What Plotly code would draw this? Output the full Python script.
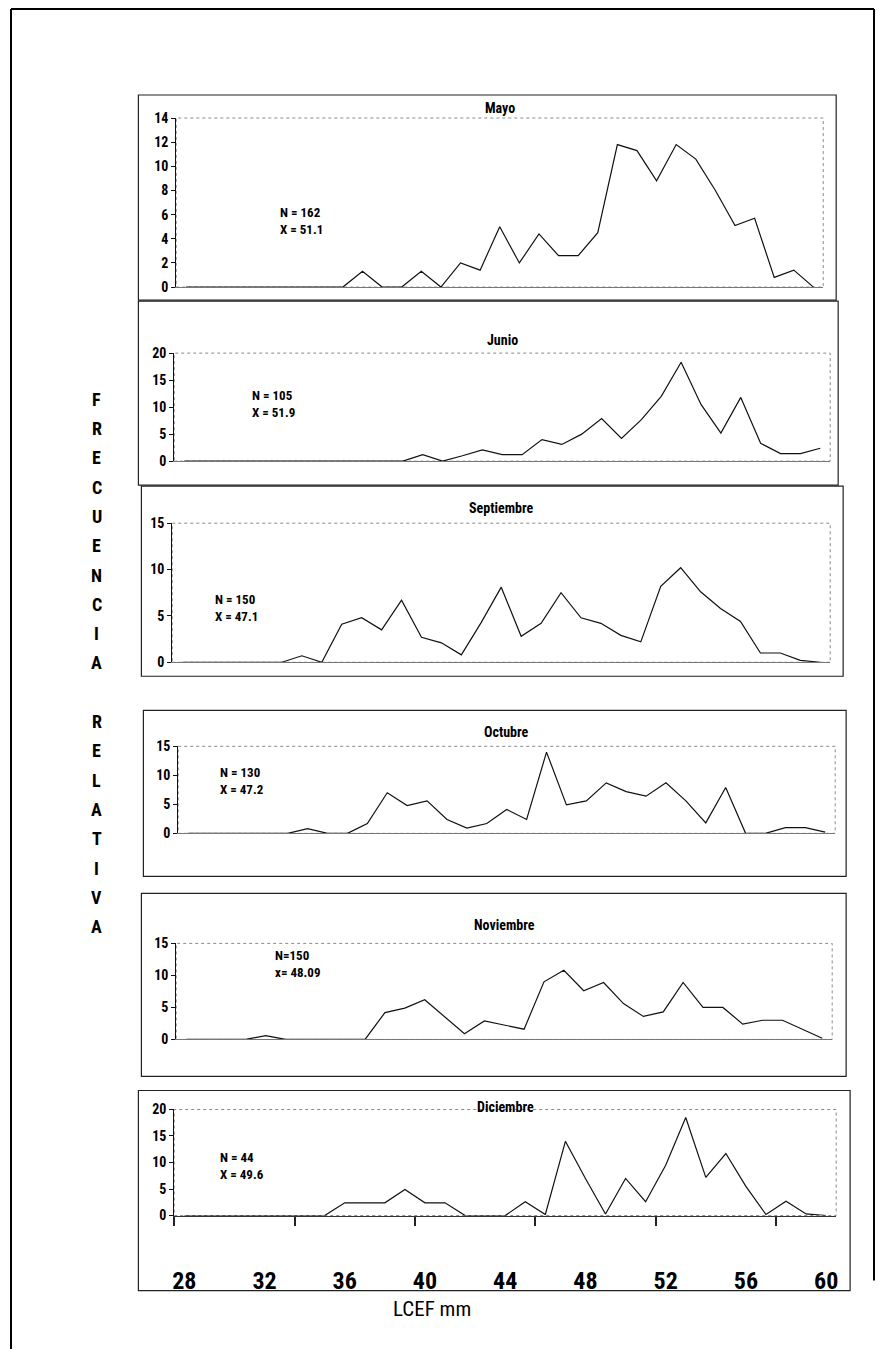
import plotly.graph_objects as go

# ---------------- data ----------------
lengths = list(range(28, 61))
months = ["Mayo", "Junio", "Septiembre", "Octubre", "Noviembre", "Diciembre"]
mayo = [0, 0, 0, 0, 0, 0, 0, 0, 0, 1.3, 0, 0, 1.3, 0, 2, 1.4, 5, 2, 4.4, 2.6, 2.6,
        4.5, 11.8, 11.3, 8.8, 11.8, 10.6, 8.0, 5.1, 5.7, 0.8, 1.4, 0]
junio = [0, 0, 0, 0, 0, 0, 0, 0, 0, 0, 0, 0, 1.2, 0, 1, 2.1, 1.2, 1.2, 4, 3.1, 5,
         7.9, 4.2, 7.7, 12, 18.3, 10.5, 5.2, 11.8, 3.3, 1.4, 1.4, 2.4]
septiembre = [0, 0, 0, 0, 0, 0, 0.7, 0, 4.1, 4.8, 3.5, 6.7, 2.7, 2.1, 0.8, 4.3, 8.1,
              2.8, 4.2, 7.5, 4.8, 4.2, 2.9, 2.2, 8.2, 10.2, 7.6, 5.8, 4.4, 1.0, 1.0, 0.2, 0]
octubre = [0, 0, 0, 0, 0, 0, 0.8, 0, 0, 1.7, 7, 4.8, 5.6, 2.4, 0.9, 1.7, 4.1, 2.4,
           14, 4.9, 5.6, 8.7, 7.2, 6.4, 8.7, 5.6, 1.8, 7.9, 0, 0, 1, 1, 0.2]
noviembre = [0, 0, 0, 0, 0.6, 0, 0, 0, 0, 0, 4.2, 4.9, 6.2, 3.5, 0.9, 2.9, 2.2, 1.6,
             9, 10.8, 7.6, 8.9, 5.6, 3.6, 4.3, 8.9, 5, 5, 2.4, 3, 3, 1.6, 0.2]
diciembre = [0, 0, 0, 0, 0, 0, 0, 0, 2.4, 2.4, 2.4, 4.9, 2.4, 2.4, 0, 0, 0, 2.6, 0.2,
             14, 7, 0.3, 7, 2.6, 9.5, 18.5, 7.2, 11.7, 5.5, 0.2, 2.7, 0.3, 0]
series = [mayo, junio, septiembre, octubre, noviembre, diciembre]
n_labels = ["N = 162", "N = 105", "N = 150", "N = 130", "N=150", "N = 44"]
x_labels = ["X = 51.1", "X = 51.9", "X = 47.1", "X = 47.2", "x= 48.09", "X = 49.6"]
y_max = [14, 20, 15, 15, 15, 20]
y_dtick = [2, 5, 5, 5, 5, 5]
x_ticks = list(range(28, 61, 4))

# ---------------- layout (page pixels; the figure sits inside the 8px body margin) ----------------
OFF = 8
W, H = 885 - 2 * OFF, 1365 - 2 * OFF
plot_px = [  # x0, x1, ytop, ybottom
    (175, 825, 118, 287),
    (173, 832, 353, 461),
    (171, 832, 523, 662),
    (177, 837, 746, 833),
    (175, 834, 943, 1039),
    (173, 838, 1109, 1215),
]
boxes_px = [
    (137, 95, 838, 300),
    (137, 301, 840, 485),
    (140, 486, 845, 676),
    (142, 710, 848, 876),
    (140, 893, 848, 1076),
    (137, 1090, 852, 1290),
]
title_y = [108, 340, 508, 732, 925, 1107]
note_px = [(305, 213), (277, 396), (240, 600), (245, 773), (300, 956), (245, 1157)]

NARROW = "Liberation Sans Narrow, Arial Narrow, Roboto Condensed, sans-serif"


def px(x):
    return (x - OFF) / W


def py(y):
    y = 660 + (y - 660) * 1.0125
    return 1 - (y - OFF) / H


fig = go.Figure()
layout = dict(
    width=W, height=H, margin=dict(l=0, r=0, t=0, b=0),
    paper_bgcolor="white", plot_bgcolor="white", showlegend=False,
    font=dict(family=NARROW, color="black"),
)
shapes = []
annotations = []

for k, (name, vals) in enumerate(zip(months, series)):
    sfx = "" if k == 0 else str(k + 1)
    xa, ya = "x" + sfx, "y" + sfx
    fig.add_trace(go.Scatter(x=lengths, y=vals, mode="lines", xaxis=xa, yaxis=ya,
                             line=dict(color="#111111", width=1.2), hoverinfo="skip"))
    x0, x1, yt, yb = plot_px[k]
    last = k == len(months) - 1
    xaxis = dict(domain=[px(x0), px(x1)], range=[27.5, 60.5], anchor=ya,
                 showgrid=False, zeroline=False, showline=True,
                 linecolor="#777777", linewidth=1, fixedrange=True)
    if last:
        xaxis.update(tickmode="array", tickvals=x_ticks, ticktext=[str(v) for v in x_ticks],
                     ticks="", ticklabelstandoff=44, linecolor="#333333",
                     tickfont=dict(family=NARROW, size=24, color="black", weight="bold"),
                     minor=dict(tickmode="array", tickvals=[27.5, 33.5, 39.5, 45.5, 51.5, 57.5],
                                ticks="outside", ticklen=9, tickcolor="#222222", tickwidth=1.5))
    else:
        xaxis.update(showticklabels=False, ticks="")
    yaxis = dict(domain=[py(yb), py(yt)], range=[0, y_max[k]], dtick=y_dtick[k], anchor=xa,
                 showgrid=False, zeroline=False, showline=True, linecolor="#111111",
                 linewidth=1.2, ticks="outside", ticklen=4, tickcolor="#111111",
                 tickfont=dict(family=NARROW, size=14, color="black", weight="bold"),
                 fixedrange=True)
    layout["xaxis" + sfx] = xaxis
    layout["yaxis" + sfx] = yaxis
    # plot-area border (grey dotted)
    shapes.append(dict(type="rect", xref=xa + " domain", yref=ya + " domain", x0=0, x1=1, y0=0, y1=1,
                       line=dict(color="#8a8a8a", width=1, dash="dot"), layer="below"))
    # chart frame
    bx0, by0, bx1, by1 = boxes_px[k]
    shapes.append(dict(type="rect", xref="paper", yref="paper", x0=px(bx0), x1=px(bx1),
                       y0=py(by1), y1=py(by0), line=dict(color="#222222", width=1.2)))
    annotations.append(dict(text=name, xref="paper", yref="paper", x=px((x0 + x1) / 2),
                            y=py(title_y[k]), showarrow=False, xanchor="center", yanchor="middle",
                            font=dict(family=NARROW, size=14, color="black", weight="bold")))
    nx, ny = note_px[k]
    annotations.append(dict(text=n_labels[k] + "<br>" + x_labels[k], xref="paper", yref="paper",
                            x=px(nx - 28), y=py(ny - 10), showarrow=False, xanchor="left",
                            yanchor="top", align="left",
                            font=dict(family=NARROW, size=13, color="black", weight="bold")))

# outer page frame (left, top, right)
shapes.append(dict(type="line", xref="paper", yref="paper", x0=px(9), x1=px(9), y0=0, y1=py(9),
                   line=dict(color="black", width=2)))
shapes.append(dict(type="line", xref="paper", yref="paper", x0=px(9), x1=px(876), y0=py(9), y1=py(9),
                   line=dict(color="black", width=2)))
shapes.append(dict(type="line", xref="paper", yref="paper", x0=px(876), x1=px(876), y0=py(1280),
                   y1=py(9), line=dict(color="black", width=2)))

# vertical letters of the y title
word = list("FRECUENCIA") + [""] + list("RELATIVA")
for i, ch in enumerate(word):
    if ch:
        annotations.append(dict(text=ch, xref="paper", yref="paper", x=px(95),
                                y=py(399 + i * 29.3), showarrow=False,
                                xanchor="center", yanchor="middle",
                                font=dict(family=NARROW, size=18, color="black", weight="bold")))

annotations.append(dict(text="LCEF mm", xref="paper", yref="paper", x=px(432), y=py(1308),
                        showarrow=False, xanchor="center", yanchor="middle",
                        font=dict(family=NARROW, size=21, color="black")))

layout["shapes"] = shapes
layout["annotations"] = annotations
fig.update_layout(**layout)
fig.write_html("out.html")
